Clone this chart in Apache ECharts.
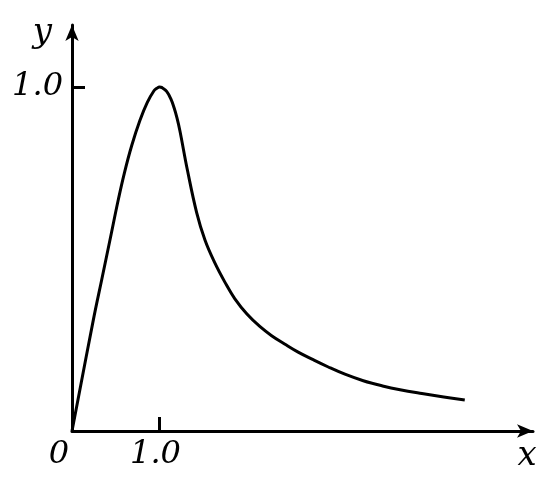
<!DOCTYPE html>
<html>
<head>
    <meta charset="utf-8">
    <title>curve</title>
    <script src="https://cdn.jsdelivr.net/npm/echarts@6/dist/echarts.min.js"></script>
    <style>
        html, body { margin: 0; padding: 0; background: #fff; }
        #main { width: 550px; height: 484px; }
    </style>
</head>
<body>
<div id="main"></div>
<script type="text/javascript">
    // curve points
    var xs = [0, 0.244, 0.339, 0.434, 0.529, 0.598, 0.682, 0.777, 0.861, 0.937, 0.97, 1.0, 1.03, 1.082, 1.13, 1.166, 1.2, 1.234, 1.318, 1.425, 1.52, 1.63, 1.749, 1.86, 2.0, 2.15, 2.282, 2.43, 2.58, 2.75, 2.93, 3.12, 3.33, 3.55, 3.75, 4.0, 4.25, 4.49];
    var ys = [0, 0.323, 0.439, 0.555, 0.672, 0.749, 0.829, 0.903, 0.955, 0.989, 0.996, 1.0, 0.998, 0.987, 0.965, 0.94, 0.91, 0.872, 0.76, 0.635, 0.555, 0.49, 0.432, 0.385, 0.34, 0.303, 0.277, 0.253, 0.23, 0.208, 0.186, 0.165, 0.146, 0.131, 0.12, 0.109, 0.099, 0.09];
    var xTicks = [0, 1];
    var yTicks = [1];

    var pts = [];
    for (var i = 0; i < xs.length; i++) {
        pts.push([xs[i], ys[i]]);
    }

    var serif = 'DejaVu Serif';

    var myChart = echarts.init(document.getElementById('main'));
    myChart.setOption({
        animation: false,
        grid: { left: 72, right: 17, top: 25, bottom: 53 },
        xAxis: {
            type: 'value',
            min: 0,
            max: 5.27,
            name: 'x',
            nameLocation: 'end',
            nameGap: -6,
            nameTextStyle: {
                color: '#000', fontFamily: serif, fontStyle: 'italic', fontSize: 34,
                align: 'center', verticalAlign: 'top', padding: [8, 0, 0, 0]
            },
            axisLine: { lineStyle: { color: '#000', width: 3 }, symbol: ['none', 'arrow'], symbolSize: [10, 16] },
            axisTick: { show: true, inside: true, length: 14, lineStyle: { color: '#000', width: 3 }, customValues: xTicks },
            axisLabel: {
                customValues: xTicks,
                margin: 8,
                formatter: function (v) { return v === 0 ? '{z|0}' : '{o|' + v.toFixed(1) + '}'; },
                rich: {
                    z: { padding: [0, 26, 0, 0], color: '#000', fontFamily: serif, fontStyle: 'italic', fontSize: 32 },
                    o: { padding: [0, 8, 0, 0], color: '#000', fontFamily: serif, fontStyle: 'italic', fontSize: 32 }
                },
                color: '#000', fontFamily: serif, fontStyle: 'italic', fontSize: 32
            },
            splitLine: { show: false }
        },
        yAxis: {
            type: 'value',
            min: 0,
            max: 1.18,
            name: 'y',
            nameLocation: 'end',
            nameGap: -8,
            nameTextStyle: {
                color: '#000', fontFamily: serif, fontStyle: 'italic', fontSize: 34,
                align: 'right', verticalAlign: 'middle', padding: [0, 20, 0, 0]
            },
            axisLine: { lineStyle: { color: '#000', width: 3 }, symbol: ['none', 'arrow'], symbolSize: [10, 16] },
            axisTick: { show: true, inside: true, length: 13, lineStyle: { color: '#000', width: 3 }, customValues: yTicks },
            axisLabel: {
                customValues: yTicks,
                margin: 9,
                formatter: function (v) { return v.toFixed(1); },
                color: '#000', fontFamily: serif, fontStyle: 'italic', fontSize: 32
            },
            splitLine: { show: false }
        },
        series: [{
            type: 'line',
            data: pts,
            smooth: 0.4,
            showSymbol: false,
            lineStyle: { color: '#000', width: 3, join: 'round' }
        }]
    });
</script>
</body>
</html>
